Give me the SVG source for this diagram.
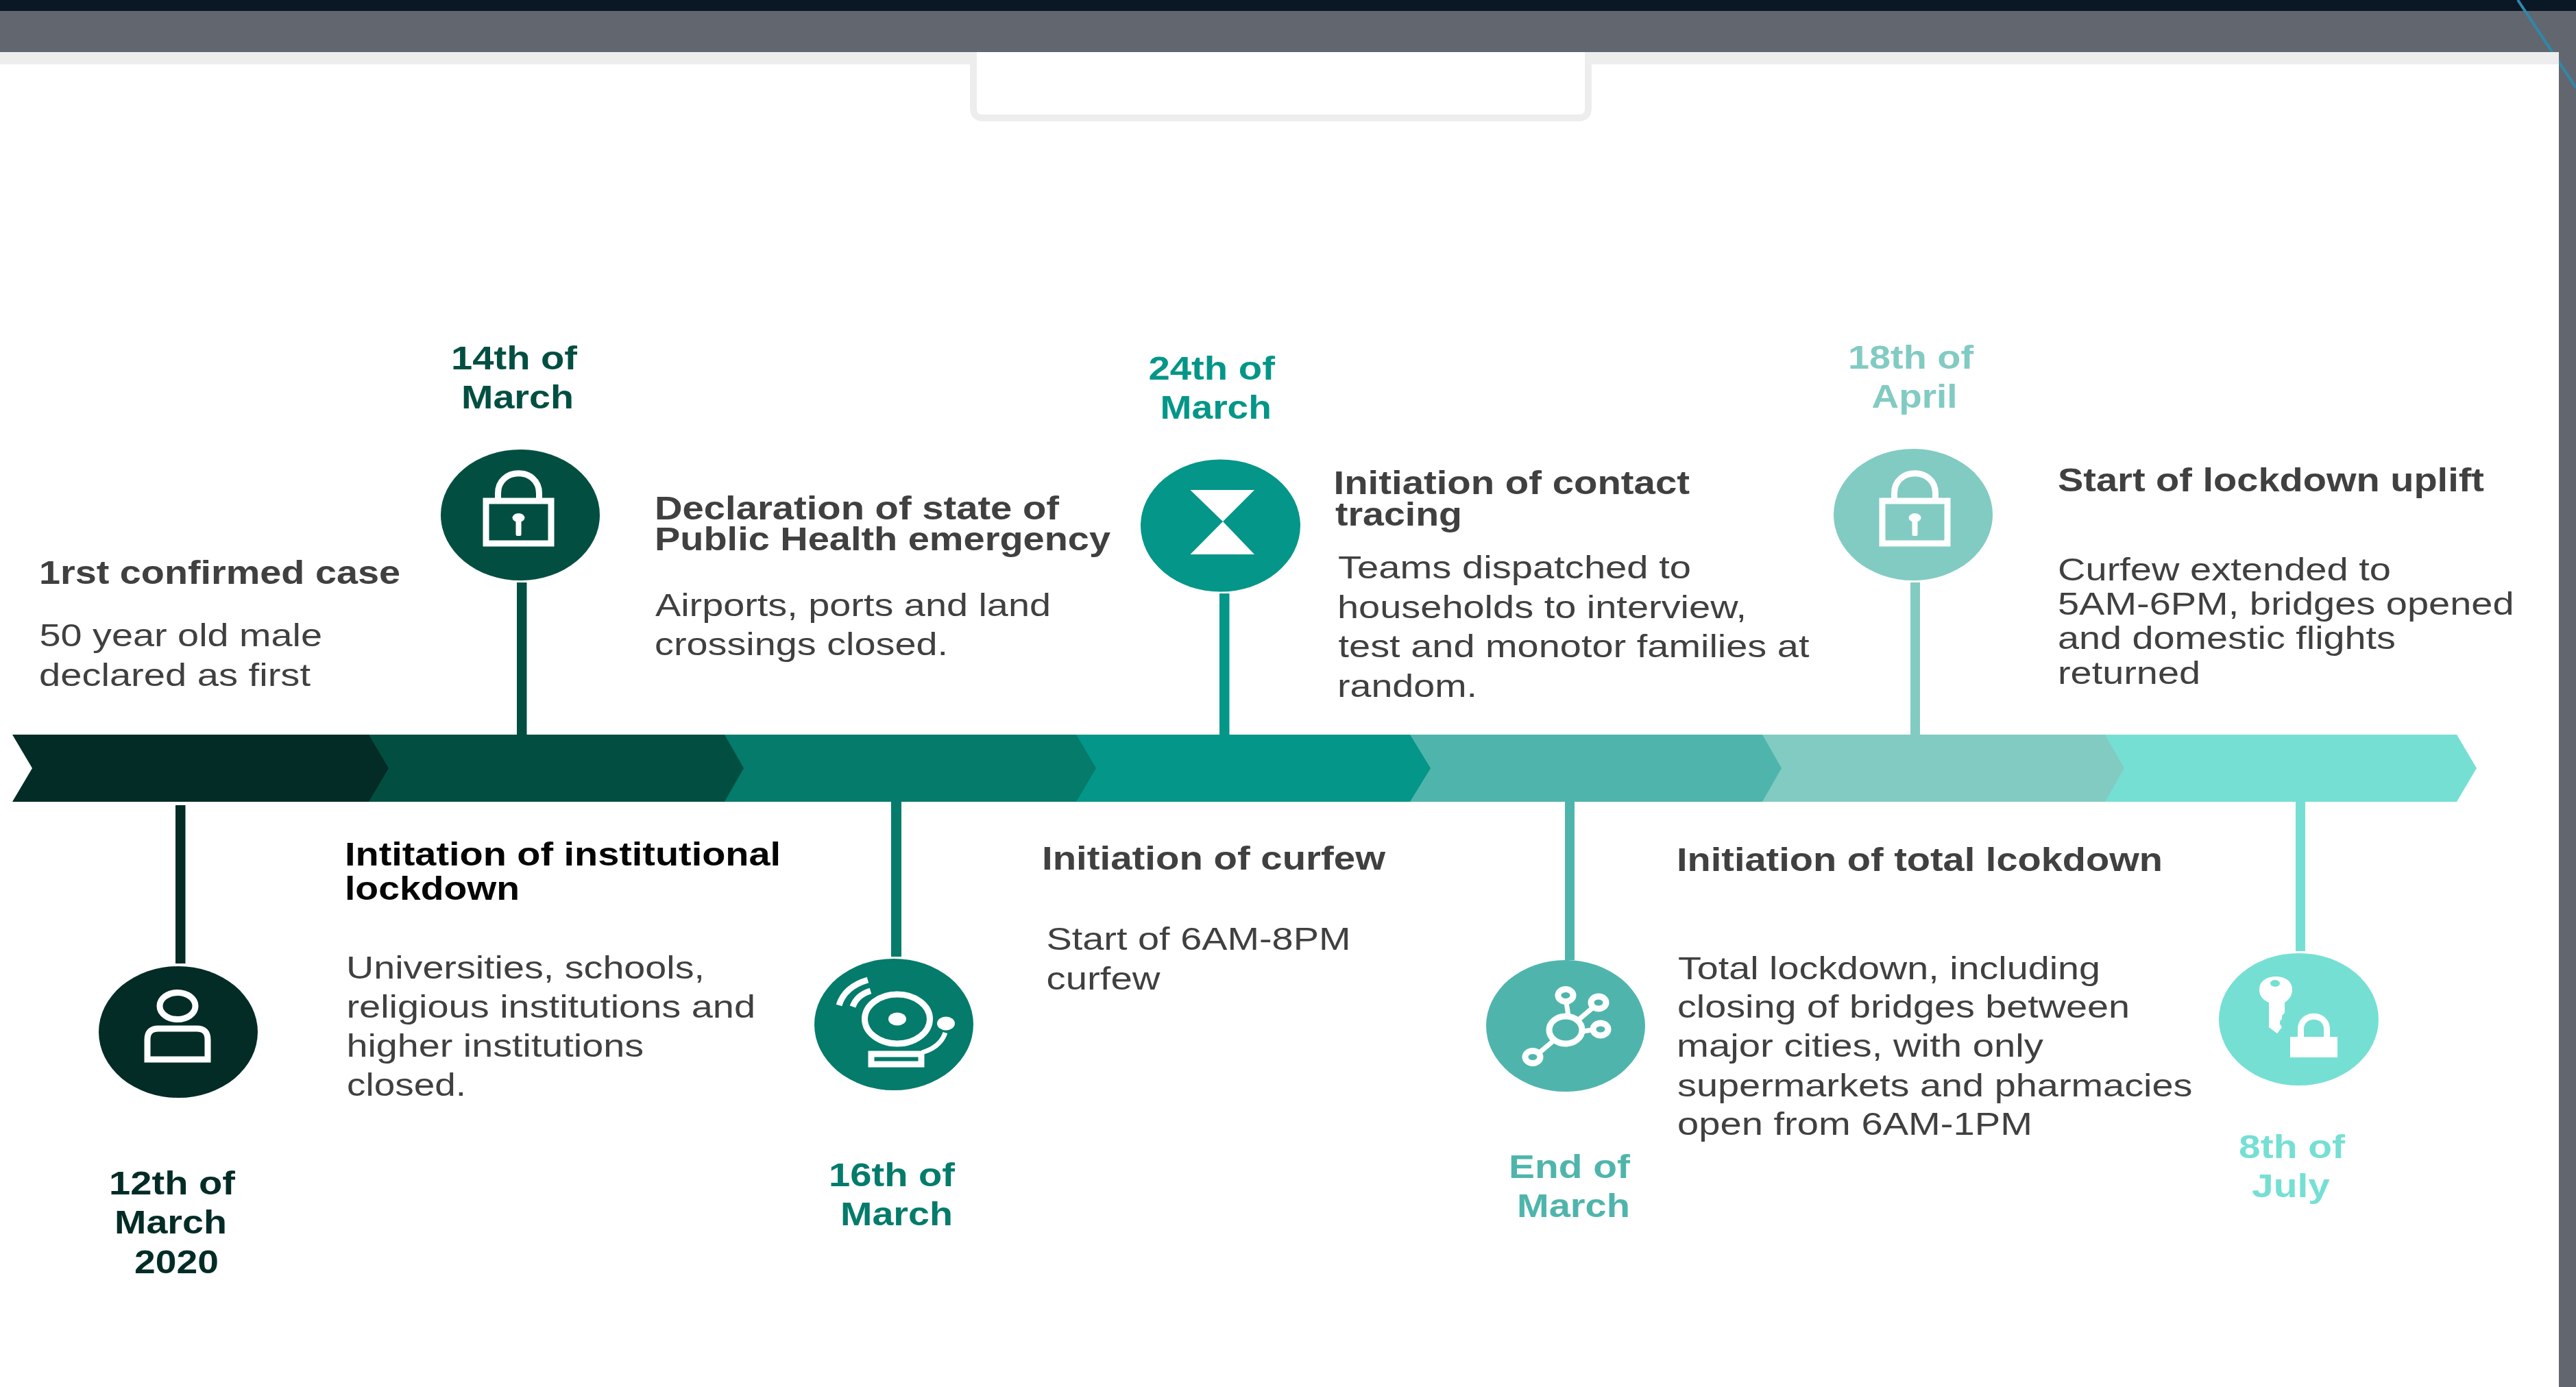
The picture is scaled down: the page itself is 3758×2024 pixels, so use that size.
<svg xmlns="http://www.w3.org/2000/svg" width="3758" height="2024" viewBox="0 0 3758 2024">
<style>
text{font-family:"Liberation Sans",Arial,sans-serif}
.h{font-size:48px;font-weight:700;fill:#404040}
.hk{font-size:48px;font-weight:700;fill:#050505}
.b{font-size:47px;fill:#404040}
.d{font-size:49px;font-weight:700}
.ic{fill:none;stroke:#fff;stroke-width:7}
.ic2{fill:none;stroke:#fff;stroke-width:9}
.icf{fill:#fff}
</style>
<defs>
<g id="lock">
<rect x="-47.500" y="-31" width="95" height="62" class="ic2"/>
<path d="M-30 -35V-42C-30 -81 30 -81 30 -42V-35" class="ic2"/>
<ellipse cx="0" cy="-6.500" rx="9" ry="6.500" class="icf"/>
<rect x="-4" y="-6" width="8" height="26" rx="2" class="icf"/>
</g>
</defs>
<rect id="backdrop" width="3758" height="2024" fill="#62676f"/>
<polygon id="top-band" points="0,0 3758,0 3758,16 0,16" fill="#0a1826"/>
<line id="corner-line" x1="3673" y1="0" x2="3758" y2="128" stroke="#2f88ac" stroke-width="4"/>
<rect id="panel-head" x="0" y="76" width="3733" height="19" fill="#ededed"/>
<rect id="panel" x="0" y="94" width="3733" height="1930" fill="#fff"/>
<path id="tab-frame" d="M1420 76V158Q1420 172 1434 172H2303Q2317 172 2317 158V76" fill="#fff" stroke="#ededed" stroke-width="10"/>
<rect id="panel-head-gap" x="1425" y="76" width="887" height="19" fill="#fff"/>

<g id="timeline-bar">
<polygon points="3071,1072 3584,1072 3613,1121 3584,1170 3071,1170" fill="#76dfd4"/>
<polygon points="2571,1072 3071,1072 3099,1121 3071,1170 2571,1170" fill="#82cbc2"/>
<polygon points="2057,1072 2571,1072 2599,1121 2571,1170 2057,1170" fill="#4fb5ac"/>
<polygon points="1570,1072 2057,1072 2087,1121 2057,1170 1570,1170" fill="#049688"/>
<polygon points="1057,1072 1570,1072 1599,1121 1570,1170 1057,1170" fill="#047b6b"/>
<polygon points="538,1072 1057,1072 1085,1121 1057,1170 538,1170" fill="#024f42"/>
<polygon points="18,1072 538,1072 567,1121 538,1170 18,1170 47,1121" fill="#042c26"/>
</g>

<g id="connectors">
<rect x="256" y="1175" width="14.500" height="231" fill="#042c26"/>
<rect x="754" y="850" width="14.500" height="222" fill="#024f42"/>
<rect x="1300" y="1170" width="15" height="226" fill="#047b6b"/>
<rect x="1779" y="866" width="14.500" height="206" fill="#049688"/>
<rect x="2283" y="1170" width="14" height="231" fill="#4fb5ac"/>
<rect x="2787" y="850" width="14" height="222" fill="#82cbc2"/>
<rect x="3349" y="1170" width="14" height="218" fill="#76dfd4"/>
</g>

<g id="node-12-march">
<ellipse cx="260" cy="1506" rx="116" ry="96" fill="#042c26"/>
<ellipse cx="259" cy="1468" rx="26" ry="19.500" class="ic2"/>
<path d="M215 1546V1517Q215 1501 231 1501H287Q303 1501 303 1517V1546Z" class="ic2"/>
<g class="d" fill="#042c26">
<text x="159" y="1743" textLength="184" lengthAdjust="spacingAndGlyphs">12th of</text>
<text x="167" y="1800" textLength="164" lengthAdjust="spacingAndGlyphs">March</text>
<text x="196" y="1858" textLength="123" lengthAdjust="spacingAndGlyphs">2020</text>
</g>
<text class="h" x="57" y="852" textLength="527" lengthAdjust="spacingAndGlyphs">1rst confirmed case</text>
<text class="b" x="57.500" y="943" textLength="412.500" lengthAdjust="spacingAndGlyphs">50 year old male</text>
<text class="b" x="57" y="1001" textLength="396" lengthAdjust="spacingAndGlyphs">declared as first</text>
</g>

<g id="node-14-march">
<ellipse cx="759" cy="751.500" rx="116" ry="95.500" fill="#024f42"/>
<use href="#lock" x="756.500" y="762"/>
<g class="d" fill="#024f42">
<text x="658" y="539" textLength="184" lengthAdjust="spacingAndGlyphs">14th of</text>
<text x="673" y="596" textLength="164" lengthAdjust="spacingAndGlyphs">March</text>
</g>
<text class="hk" x="503" y="1263" textLength="636" lengthAdjust="spacingAndGlyphs">Intitation of institutional</text>
<text class="hk" x="503" y="1313" textLength="255" lengthAdjust="spacingAndGlyphs">lockdown</text>
<text class="b" x="505" y="1428" textLength="523" lengthAdjust="spacingAndGlyphs">Universities, schools,</text>
<text class="b" x="505.500" y="1485" textLength="596.500" lengthAdjust="spacingAndGlyphs">religious institutions and</text>
<text class="b" x="505.500" y="1542" textLength="433.500" lengthAdjust="spacingAndGlyphs">higher institutions</text>
<text class="b" x="506" y="1599" textLength="174" lengthAdjust="spacingAndGlyphs">closed.</text>
</g>

<g id="node-16-march">
<ellipse cx="1304" cy="1495" rx="116" ry="96" fill="#047b6b"/>
<ellipse cx="1309" cy="1487" rx="47.500" ry="36" class="ic2"/>
<ellipse cx="1309" cy="1487" rx="13" ry="9.500" class="icf"/>
<ellipse cx="1380" cy="1493.500" rx="13" ry="10" class="icf"/>
<rect x="1271" y="1538" width="73" height="15" class="ic2"/>
<path d="M1345 1536Q1372 1528 1379 1507" class="ic"/>
<path d="M1224 1467Q1232 1440 1266 1430" class="ic2"/>
<path d="M1244 1469Q1250 1452 1270 1446" class="ic2"/>
<g class="d" fill="#047b6b">
<text x="1209" y="1731" textLength="184" lengthAdjust="spacingAndGlyphs">16th of</text>
<text x="1226" y="1788" textLength="164" lengthAdjust="spacingAndGlyphs">March</text>
</g>
<text class="h" x="955" y="757.500" textLength="590" lengthAdjust="spacingAndGlyphs">Declaration of state of</text>
<text class="h" x="955" y="803" textLength="665" lengthAdjust="spacingAndGlyphs">Public Health emergency</text>
<text class="b" x="956" y="899" textLength="577" lengthAdjust="spacingAndGlyphs">Airports, ports and land</text>
<text class="b" x="955" y="956" textLength="428" lengthAdjust="spacingAndGlyphs">crossings closed.</text>
</g>

<g id="node-24-march">
<ellipse cx="1780.500" cy="767" rx="116.500" ry="96.500" fill="#049688"/>
<polygon points="1736.500,715 1830,715 1784,761 1830,809 1736.500,809 1784,761" class="icf"/>
<g class="d" fill="#049688">
<text x="1675.500" y="554" textLength="184.500" lengthAdjust="spacingAndGlyphs">24th of</text>
<text x="1692.500" y="611" textLength="162.500" lengthAdjust="spacingAndGlyphs">March</text>
</g>
<text class="h" x="1520" y="1268.500" textLength="501" lengthAdjust="spacingAndGlyphs">Initiation of curfew</text>
<text class="b" x="1526.500" y="1386" textLength="444" lengthAdjust="spacingAndGlyphs">Start of 6AM-8PM</text>
<text class="b" x="1526.500" y="1443.500" textLength="166" lengthAdjust="spacingAndGlyphs">curfew</text>
</g>

<g id="node-end-march">
<ellipse cx="2284" cy="1497" rx="116" ry="96" fill="#4fb5ac"/>
<path d="M2285 1463L2288 1482M2323 1471L2303 1488M2322 1503L2309 1505M2247 1535L2266 1519" class="ic"/>
<ellipse cx="2284" cy="1503" rx="24" ry="20" class="ic2"/>
<ellipse cx="2284" cy="1452.500" rx="11" ry="9" class="ic2"/>
<ellipse cx="2332" cy="1463" rx="11" ry="9" class="ic2"/>
<ellipse cx="2335" cy="1502" rx="11" ry="9" class="ic2"/>
<ellipse cx="2236" cy="1542.500" rx="11" ry="9" class="ic2"/>
<g class="d" fill="#4fb5ac">
<text x="2201" y="1719" textLength="177" lengthAdjust="spacingAndGlyphs">End of</text>
<text x="2213" y="1776" textLength="165" lengthAdjust="spacingAndGlyphs">March</text>
</g>
<text class="h" x="1945.500" y="720.500" textLength="519.500" lengthAdjust="spacingAndGlyphs">Initiation of contact</text>
<text class="h" x="1948" y="766.500" textLength="185" lengthAdjust="spacingAndGlyphs">tracing</text>
<text class="b" x="1952" y="844" textLength="515" lengthAdjust="spacingAndGlyphs">Teams dispatched to</text>
<text class="b" x="1951" y="901.500" textLength="597" lengthAdjust="spacingAndGlyphs">households to interview,</text>
<text class="b" x="1952.500" y="959" textLength="687" lengthAdjust="spacingAndGlyphs">test and monotor families at</text>
<text class="b" x="1951" y="1016.500" textLength="204" lengthAdjust="spacingAndGlyphs">random.</text>
</g>

<g id="node-18-april">
<ellipse cx="2791" cy="751" rx="116" ry="96" fill="#82cbc2"/>
<use href="#lock" x="2793.500" y="762"/>
<g class="d" fill="#82cbc2">
<text x="2696" y="538" textLength="183" lengthAdjust="spacingAndGlyphs">18th of</text>
<text x="2730.500" y="595" textLength="125" lengthAdjust="spacingAndGlyphs">April</text>
</g>
<text class="h" x="2446" y="1270.500" textLength="709" lengthAdjust="spacingAndGlyphs">Initiation of total lcokdown</text>
<text class="b" x="2448" y="1428.500" textLength="616" lengthAdjust="spacingAndGlyphs">Total lockdown, including</text>
<text class="b" x="2447" y="1485" textLength="660" lengthAdjust="spacingAndGlyphs">closing of bridges between</text>
<text class="b" x="2446" y="1542" textLength="535" lengthAdjust="spacingAndGlyphs">major cities, with only</text>
<text class="b" x="2447" y="1599.500" textLength="751.500" lengthAdjust="spacingAndGlyphs">supermarkets and pharmacies</text>
<text class="b" x="2447" y="1656" textLength="518" lengthAdjust="spacingAndGlyphs">open from 6AM-1PM</text>
</g>

<g id="node-8-july">
<ellipse cx="3353.500" cy="1487.500" rx="116.500" ry="96.500" fill="#76dfd4"/>
<path fill-rule="evenodd" class="icf" d="M3320 1425C3336 1425 3344 1434 3344 1444C3344 1453 3339 1459 3333 1463V1478L3329 1482V1487L3326 1490V1494L3329 1499L3322 1508L3310 1499V1463C3301 1459 3296 1453 3296 1444C3296 1434 3304 1425 3320 1425ZM3319 1430A7 5 0 1 0 3319 1440A7 5 0 1 0 3319 1430Z"/>
<rect x="3341" y="1513" width="69" height="30" class="icf"/>
<path d="M3356.500 1513V1502C3356.500 1477 3394.500 1477 3394.500 1502V1513" class="ic2"/>
<g class="d" fill="#76dfd4">
<text x="3266" y="1690" textLength="155" lengthAdjust="spacingAndGlyphs">8th of</text>
<text x="3285" y="1747" textLength="114" lengthAdjust="spacingAndGlyphs">July</text>
</g>
<text class="h" x="3002" y="716.500" textLength="622" lengthAdjust="spacingAndGlyphs">Start of lockdown uplift</text>
<text class="b" x="3002" y="846.500" textLength="486" lengthAdjust="spacingAndGlyphs">Curfew extended to</text>
<text class="b" x="3002" y="897" textLength="665.500" lengthAdjust="spacingAndGlyphs">5AM-6PM, bridges opened</text>
<text class="b" x="3002" y="947" textLength="493" lengthAdjust="spacingAndGlyphs">and domestic flights</text>
<text class="b" x="3002" y="997.500" textLength="208" lengthAdjust="spacingAndGlyphs">returned</text>
</g>
</svg>
